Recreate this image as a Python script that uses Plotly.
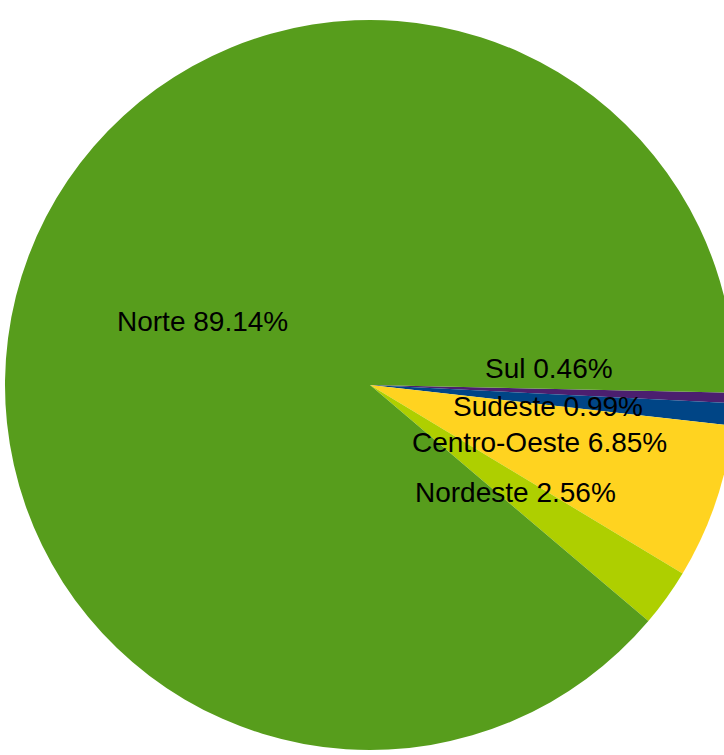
import math
import plotly.graph_objects as go

# Data (clockwise order starting just below 3 o'clock)
regions = ["Sul", "Sudeste", "Centro-Oeste", "Nordeste", "Norte"]
shares = [0.46, 0.99, 6.85, 2.56, 89.14]
colors = ["#4B1F6F", "#004586", "#FFD320", "#AECF00", "#579D1C"]

W, H = 740, 755                      # figure is a bit wider than the window; pie is cut at the right edge
CX, CY, R = 370, 385, 365            # pie centre / radius in pixels
START = 1.2                          # degrees below 3 o'clock where first slice starts
LABEL_R = 0.49                       # labels sit at ~half radius along mid-angle

dom_x = [(CX - R) / W, (CX + R) / W]
dom_y = [(H - CY - R) / H, (H - CY + R) / H]

fig = go.Figure(go.Pie(
    labels=regions,
    values=shares,
    marker=dict(colors=colors, line=dict(width=0)),
    sort=False,
    direction="clockwise",
    rotation=90 + START,
    textinfo="none",
    hoverinfo="label+percent",
    domain=dict(x=dom_x, y=dom_y),
    showlegend=False,
))

# label placement: along each slice's mid-angle, with small nudges
# for the thinnest slices, as in the original
nudges = {"Sul": 23, "Sudeste": -7, "Nordeste": -3}
total = sum(shares)
cum = 0.0
annotations = []
for name, v in zip(regions, shares):
    mid = START + (cum + v / 2) / total * 360
    cum += v
    a = math.radians(mid)
    px = CX + LABEL_R * R * math.cos(a)
    py = CY + LABEL_R * R * math.sin(a)
    annotations.append(dict(
        x=px / W, y=1 - py / H, xref="paper", yref="paper",
        text=f"{name} {v:.2f}%", showarrow=False,
        xanchor="center", yanchor="middle",
        yshift=nudges.get(name, 0),
        font=dict(family="Liberation Sans, Arial, sans-serif", size=28, color="#000000"),
    ))

fig.update_layout(
    width=W, height=H,
    margin=dict(l=0, r=0, t=0, b=0),
    paper_bgcolor="white",
    plot_bgcolor="white",
    annotations=annotations,
)

fig.write_html(
    "out.html",
    config={"displayModeBar": False},
    post_script=(
        "document.documentElement.style.overflow='hidden';"
        "document.body.style.margin='0';"
        "document.body.style.overflow='hidden';"
    ),
)
